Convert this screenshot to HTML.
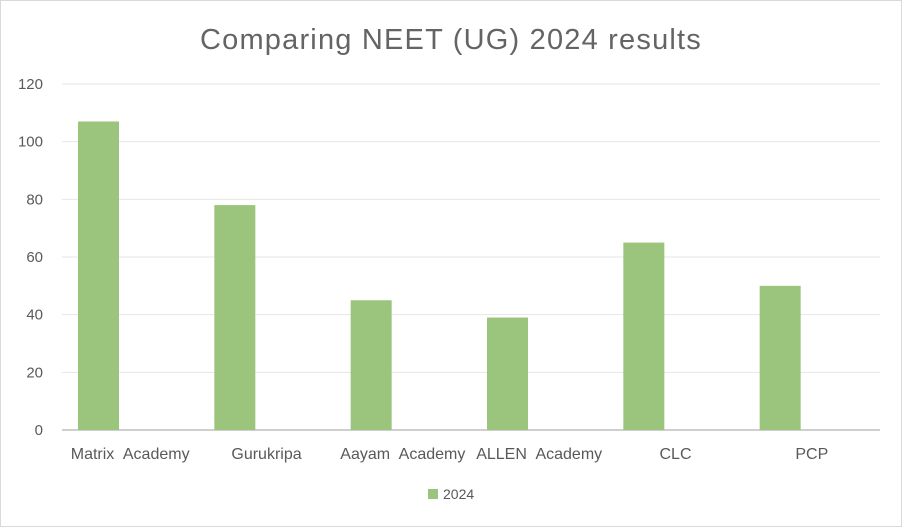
<!DOCTYPE html>
<html><head><meta charset="utf-8"><style>
body{margin:0;background:#fff;font-family:"Liberation Sans",sans-serif;}
svg text{font-family:"Liberation Sans",sans-serif;fill:#595959;}
</style></head><body>
<svg id="chart" width="902" height="527" viewBox="0 0 902 527" xmlns="http://www.w3.org/2000/svg">
<rect x="0.5" y="0.5" width="901" height="526" fill="#fff" stroke="#d9d9d9"/>
<text x="451" y="49" text-anchor="middle" font-size="29" letter-spacing="1.2" style="fill:#646464">Comparing NEET (UG) 2024 results</text>
<g id="grid"></g><g id="bars"></g><g id="labels"></g>
<g>
<rect x="428" y="489" width="10" height="10" fill="#9bc57d"/>
<text x="443" y="499" font-size="14">2024</text>
</g>
</svg>
<script>
const categories=["Matrix Academy","Gurukripa","Aayam Academy","ALLEN Academy","CLC","PCP"];
const values=[107,78,45,39,65,50];
const ticks=[0,20,40,60,80,100,120];
const ns="http://www.w3.org/2000/svg";
const x0=62,x1=880,y0=430,yTop=84,max=120;
const y=v=>y0-(v/max)*(y0-yTop);
const bw=(x1-x0)/categories.length;
const g=document.getElementById('grid'),b=document.getElementById('bars'),l=document.getElementById('labels');
function mk(tag,attrs,parent){const e=document.createElementNS(ns,tag);for(const k in attrs)e.setAttribute(k,attrs[k]);parent.appendChild(e);return e;}
ticks.forEach(t=>{
 if(t>0){const ln=mk('line',{x1:x0,x2:x1,y1:y(t),y2:y(t),stroke:'#e6e6e6','stroke-width':1},g);
 
 }
 const tx=mk('text',{x:43,y:y(t)+5,'text-anchor':'end','font-size':15},g);tx.textContent=t;
 
 
});
categories.forEach((c,i)=>{
 const bx=x0+i*bw+16;
 const r=mk('rect',{x:bx,y:y(values[i]),width:41,height:y0-y(values[i]),fill:'#9bc57d'},b);
 
 
 const tx=mk('text',{x:x0+i*bw+bw/2,y:459,'text-anchor':'middle','font-size':16,'word-spacing':'5'},l);tx.textContent=c;
 
 
});
const ax=mk('line',{x1:x0,x2:x1,y1:y0,y2:y0,stroke:'#bfbfbf','stroke-width':1.5},g);


</script>
</body></html>
